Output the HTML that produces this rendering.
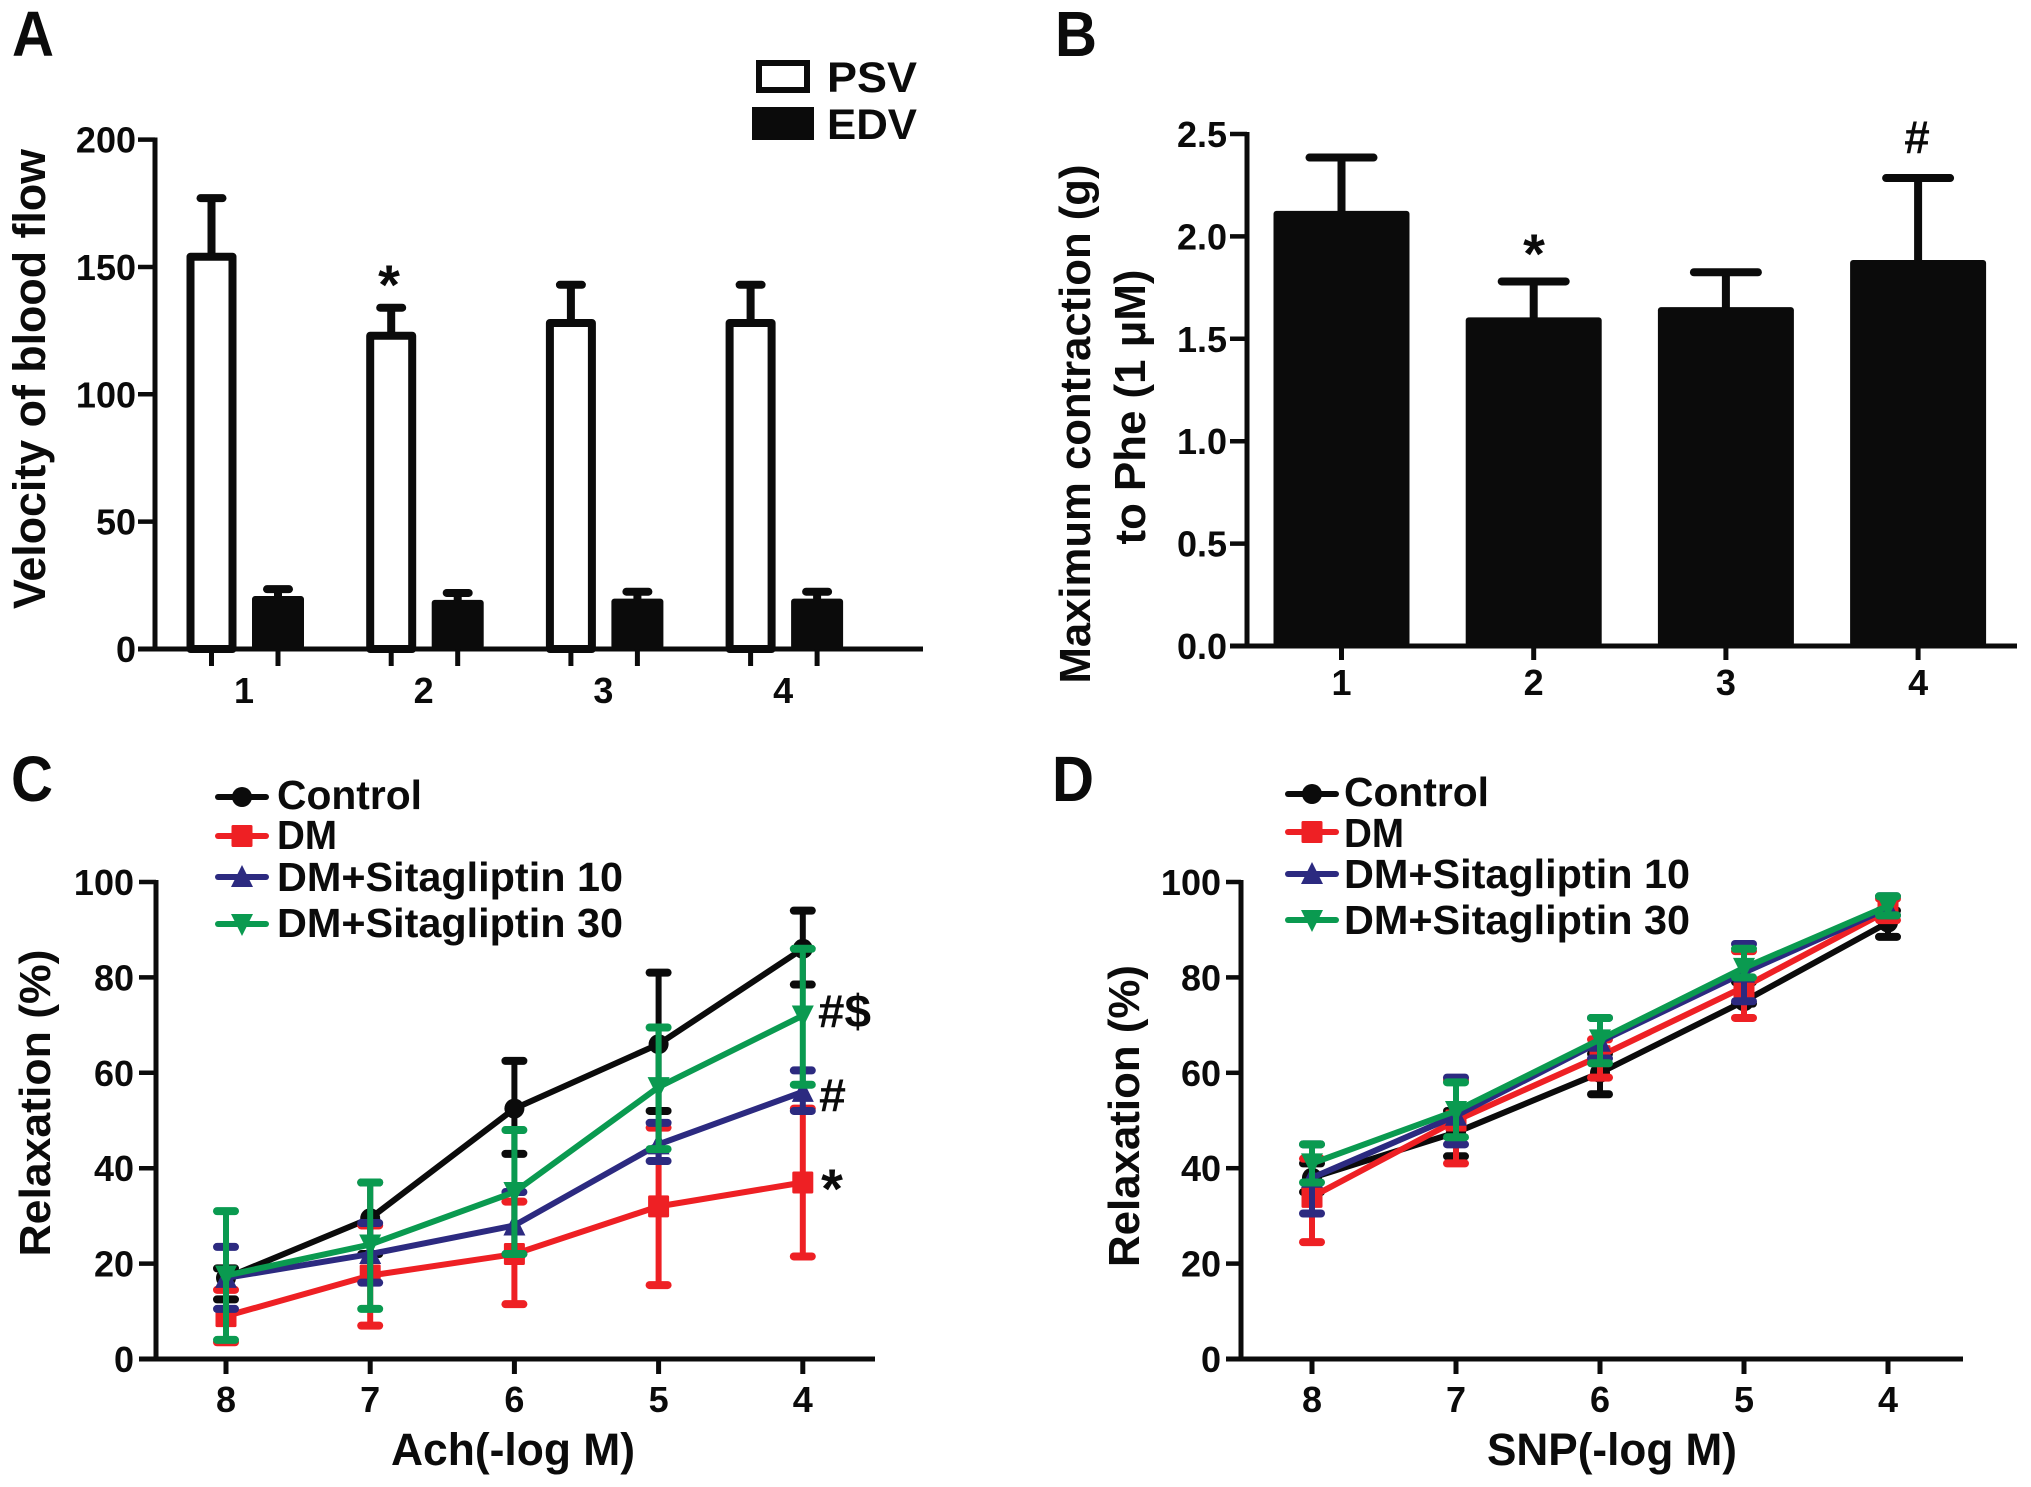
<!DOCTYPE html>
<html lang="en">
<head>
<meta charset="utf-8">
<title>Sitagliptin vascular function figure</title>
<style>
html,body{margin:0;padding:0;background:#fff;}
svg{display:block;}
text{font-family:"Liberation Sans",Arial,sans-serif;font-weight:bold;fill:#0b0b0b;}
</style>
</head>
<body>
<svg id="fig" xmlns="http://www.w3.org/2000/svg" width="2031" height="1487" viewBox="0 0 2031 1487">
  <rect width="2031" height="1487" fill="#fff"/>
  <g id="a"></g>
  <g id="b"></g>
  <g id="c"></g>
  <g id="d"></g>

  <text x="12" y="56" font-size="64" textLength="42" lengthAdjust="spacingAndGlyphs">A</text>
  <text x="1055" y="56" font-size="64" textLength="42" lengthAdjust="spacingAndGlyphs">B</text>
  <text x="11" y="801" font-size="64" textLength="42" lengthAdjust="spacingAndGlyphs">C</text>
  <text x="1052" y="801" font-size="64" textLength="42" lengthAdjust="spacingAndGlyphs">D</text>

  <text transform="translate(45,379) rotate(-90)" text-anchor="middle" font-size="45" textLength="460" lengthAdjust="spacingAndGlyphs">Velocity of blood flow</text>
  <text transform="translate(1090,424) rotate(-90)" text-anchor="middle" font-size="44" textLength="519" lengthAdjust="spacingAndGlyphs">Maximum contraction (g)</text>
  <text transform="translate(1145,407) rotate(-90)" text-anchor="middle" font-size="44" textLength="275" lengthAdjust="spacingAndGlyphs">to Phe (1 μM)</text>
  <text transform="translate(50,1103) rotate(-90)" text-anchor="middle" font-size="44" textLength="307" lengthAdjust="spacingAndGlyphs">Relaxation (%)</text>
  <text transform="translate(1139,1116) rotate(-90)" text-anchor="middle" font-size="44" textLength="302" lengthAdjust="spacingAndGlyphs">Relaxation (%)</text>
  <text x="391" y="1465" font-size="45" textLength="244" lengthAdjust="spacingAndGlyphs">Ach(-log M)</text>
  <text x="1487" y="1465" font-size="45" textLength="250" lengthAdjust="spacingAndGlyphs">SNP(-log M)</text>

  <g>
    <rect x="759" y="63" width="48" height="27" fill="#fff" stroke="#0b0b0b" stroke-width="6"/>
    <text x="827" y="92" font-size="43" textLength="90" lengthAdjust="spacingAndGlyphs">PSV</text>
    <rect x="752" y="107" width="62" height="33" fill="#0b0b0b"/>
    <text x="827" y="139" font-size="43" textLength="90" lengthAdjust="spacingAndGlyphs">EDV</text>
  </g>

  <text x="389" y="304" font-size="56" text-anchor="middle">*</text>
  <text x="1534" y="273" font-size="56" text-anchor="middle">*</text>
  <text x="1917" y="153" font-size="46" text-anchor="middle">#</text>
  <text x="818" y="1027" font-size="46" textLength="53" lengthAdjust="spacingAndGlyphs">#$</text>
  <text x="819" y="1111" font-size="46" textLength="27" lengthAdjust="spacingAndGlyphs">#</text>
  <text x="832" y="1208" font-size="56" text-anchor="middle">*</text>

  <g id="legend-c"></g>
  <g id="legend-d"></g>
</svg>

<script>
// Panel A
const aCategories = ['1', '2', '3', '4'];
const aYTicks = [0, 50, 100, 150, 200];
const aPsv = [154, 123, 128, 128];
const aPsvErr = [23, 11, 15, 15];
const aEdv = [20, 18.5, 19, 19];
const aEdvErr = [3.5, 3.5, 3.5, 3.5];

// Panel B
const bCategories = ['1', '2', '3', '4'];
const bYTickLabels = ['0.0', '0.5', '1.0', '1.5', '2.0', '2.5'];
const bValues = [2.11, 1.59, 1.64, 1.87];
const bErr = [0.275, 0.19, 0.185, 0.415];

// Panels C and D share dose labels and y ticks
const doseLabels = ['8', '7', '6', '5', '4'];
const relaxTicks = [0, 20, 40, 60, 80, 100];
const seriesNames = ['Control', 'DM', 'DM+Sitagliptin 10', 'DM+Sitagliptin 30'];

// Panel C
const cControl = [17, 29.5, 52.5, 66, 86];
const cControlHi = [19, 37, 62.5, 81, 94];
const cControlLo = [12.5, 22, 43, 52, 78.5];
const cDm = [9, 17.5, 22, 32, 37];
const cDmHi = [14.5, 28, 33, 48.5, 52.5];
const cDmLo = [3.5, 7, 11.5, 15.5, 21.5];
const cS10 = [17, 22, 28, 45, 56];
const cS10Hi = [23.5, 28.5, 35, 49.5, 60.5];
const cS10Lo = [10.5, 16, 22, 41.5, 52];
const cS30 = [17.5, 24, 35, 57, 72];
const cS30Hi = [31, 37, 48, 69.5, 86];
const cS30Lo = [4, 10.5, 22, 44, 57.5];

// Panel D
const dControl = [38, 47.5, 60, 75, 91.5];
const dControlHi = [41, 52, 64, 79, 94];
const dControlLo = [35, 42.5, 55.5, 74.5, 88.5];
const dDm = [34, 50, 63.5, 78, 94];
const dDmHi = [42, 58.5, 67, 85.5, 96.5];
const dDmLo = [24.5, 41, 59, 71.5, 92];
const dS10 = [38, 51, 66.5, 81, 94.5];
const dS10Hi = [45, 59, 71.5, 87, 97];
const dS10Lo = [30.5, 45, 63, 75, 93];
const dS30 = [41, 52, 67, 82, 95];
const dS30Hi = [45, 58, 71.5, 86, 97];
const dS30Lo = [37, 46.5, 62, 80, 93];

const NS = 'http://www.w3.org/2000/svg';
const INK = '#0b0b0b';
const RED = '#ee2024';
const NAVY = '#2c2a80';
const GREEN = '#0a9a50';

function mk(parent, tag, attrs) {
  const el = document.createElementNS(NS, tag);
  for (const k in attrs) el.setAttribute(k, attrs[k]);
  parent.appendChild(el);
  return el;
}
function seg(parent, x1, y1, x2, y2, color, w, cap) {
  return mk(parent, 'line', {x1: x1, y1: y1, x2: x2, y2: y2, stroke: color, 'stroke-width': w, 'stroke-linecap': cap || 'butt'});
}
function drawAxes(group, x0, x1, y0, yTop, yScale, yTicks, yLabels, xCenters, xLabelPos, xLabels, xLabelY, tickLeft, labelGap, tickLen) {
  const yAxis = seg(group, x0, y0 + 2, x0, yTop - 2, INK, 5);
  
  
  const xAxis = seg(group, tickLeft, y0, x1, y0, INK, 5);
  
  
  yTicks.forEach(function (v, i) {
    const t = seg(group, tickLeft, yScale(v), x0, yScale(v), INK, 4.5);
    
    
    const lab = mk(group, 'text', {x: tickLeft - labelGap, y: yScale(v) + 13, 'font-size': 36, 'text-anchor': 'end'});
    lab.textContent = yLabels[i];
    
    
  });
  xCenters.forEach(function (x) {
    const t = seg(group, x, y0, x, y0 + tickLen, INK, 5);
    
    
  });
  xLabels.forEach(function (s, i) {
    const lab = mk(group, 'text', {x: xLabelPos[i], y: xLabelY, 'font-size': 36, 'text-anchor': 'middle'});
    lab.textContent = s;
    
    
  });
}

/* ---------- Panel A ---------- */
(function () {
  const g = document.getElementById('a');
  const base = 649;
  const y = function (v) { return base - v * 2.547; };
  const xPsv = function (i) { return 211.5 + i * 179.7; };
  const xEdv = function (i) { return 278 + i * 179.7; };
  const centers = [];
  const labelPos = [];
  aCategories.forEach(function (c, i) {
    centers.push(xPsv(i), xEdv(i));
    labelPos.push(244 + i * 179.7);
  });
  aCategories.forEach(function (c, i) {
    const stem = seg(g, xPsv(i), y(aPsv[i]), xPsv(i), y(aPsv[i] + aPsvErr[i]), INK, 8);
    
    
    const cap = seg(g, xPsv(i) - 11, y(aPsv[i] + aPsvErr[i]), xPsv(i) + 11, y(aPsv[i] + aPsvErr[i]), INK, 8, 'round');
    
    
    const bar = mk(g, 'rect', {x: xPsv(i) - 21, y: y(aPsv[i]), width: 42, height: base - y(aPsv[i]), fill: '#fff', stroke: INK, 'stroke-width': 8, 'stroke-linejoin': 'round'});
    
    
    const stem2 = seg(g, xEdv(i), y(aEdv[i]), xEdv(i), y(aEdv[i] + aEdvErr[i]), INK, 8);
    
    
    const cap2 = seg(g, xEdv(i) - 11, y(aEdv[i] + aEdvErr[i]), xEdv(i) + 11, y(aEdv[i] + aEdvErr[i]), INK, 8, 'round');
    
    
    const bar2 = mk(g, 'rect', {x: xEdv(i) - 26, y: y(aEdv[i]) - 2, width: 52, height: base - y(aEdv[i]) + 2, fill: INK, rx: 3});
    
    
  });
  drawAxes(g, 155, 923, base, 139.5, y, aYTicks, aYTicks.map(String), centers, labelPos, aCategories, 703, 138, 2, 17);
})();

/* ---------- Panel B ---------- */
(function () {
  const g = document.getElementById('b');
  const base = 646;
  const y = function (v) { return base - v * 204.8; };
  const x = function (i) { return 1341.5 + i * 192.2; };
  const centers = bCategories.map(function (c, i) { return x(i); });
  const yVals = bYTickLabels.map(Number);
  bCategories.forEach(function (c, i) {
    const top = bValues[i] + bErr[i];
    const stem = seg(g, x(i), y(bValues[i]), x(i), y(top), INK, 8);
    
    
    const cap = seg(g, x(i) - 32, y(top), x(i) + 32, y(top), INK, 8, 'round');
    
    
    const bar = mk(g, 'rect', {x: x(i) - 68, y: y(bValues[i]) - 3, width: 136, height: base - y(bValues[i]) + 3, fill: INK, rx: 3});
    
    
  });
  drawAxes(g, 1247, 2017, base, 134, y, yVals, bYTickLabels, centers, centers, bCategories, 695, 1230, 3, 14);
})();

/* ---------- Panels C and D ---------- */
function drawMarker(g, kind, cx, cy, color) {
  if (kind === 0) {
    const m = mk(g, 'circle', {cx: cx, cy: cy, r: 10, fill: color});
    
    
  } else if (kind === 1) {
    const m = mk(g, 'rect', {x: cx - 10.5, y: cy - 11, width: 21, height: 22, fill: color, rx: 1.5});
    
    
  } else if (kind === 2) {
    const pts = (cx - 11) + ',' + (cy + 10) + ' ' + (cx + 11) + ',' + (cy + 10) + ' ' + cx + ',' + (cy - 12);
    const m = mk(g, 'polygon', {points: pts, fill: color});
    
    
  } else {
    const pts = (cx - 11) + ',' + (cy - 10) + ' ' + (cx + 11) + ',' + (cy - 10) + ' ' + cx + ',' + (cy + 12);
    const m = mk(g, 'polygon', {points: pts, fill: color});
    
    
  }
}
function drawLines(g, x, y, allSeries, colors) {
  allSeries.forEach(function (s, k) {
    const means = s[0], hi = s[1], lo = s[2], color = colors[k];
    means.forEach(function (v, i) {
      const stem = seg(g, x(i), y(hi[i]), x(i), y(lo[i]), color, 6);
      
      
      const capHi = seg(g, x(i) - 9, y(hi[i]), x(i) + 9, y(hi[i]), color, 8, 'round');
      
      
      const capLo = seg(g, x(i) - 9, y(lo[i]), x(i) + 9, y(lo[i]), color, 8, 'round');
      
      
    });
    const pts = means.map(function (v, i) { return x(i) + ',' + y(v); }).join(' ');
    const line = mk(g, 'polyline', {points: pts, fill: 'none', stroke: color, 'stroke-width': 6, 'stroke-linejoin': 'round'});
    
    
    means.forEach(function (v, i) {
      drawMarker(g, k, x(i), y(v), color);
    });
  });
}
function drawLegend(g, lineX0, lineX1, textX, ys, baselines, widths, colors) {
  seriesNames.forEach(function (name, k) {
    const l = seg(g, lineX0 + 3, ys[k], lineX1 - 3, ys[k], colors[k], 6, 'round');
    
    
    drawMarker(g, k, (lineX0 + lineX1) / 2, ys[k], colors[k]);
    const t = mk(g, 'text', {x: textX, y: baselines[k], 'font-size': 41, textLength: widths[k], lengthAdjust: 'spacingAndGlyphs'});
    t.textContent = name;
    
    
  });
}
const lineColors = [INK, RED, NAVY, GREEN];
(function () {
  const g = document.getElementById('c');
  const y = function (v) { return 1359 - v * 4.77; };
  const x = function (i) { return 226 + i * 144.2; };
  const centers = doseLabels.map(function (c, i) { return x(i); });
  drawAxes(g, 156, 875, 1359, 882, y, relaxTicks, relaxTicks.map(String), centers, centers, doseLabels, 1412, 139, 5, 15);
  drawLines(g, x, y, [[cControl, cControlHi, cControlLo], [cDm, cDmHi, cDmLo], [cS10, cS10Hi, cS10Lo], [cS30, cS30Hi, cS30Lo]], lineColors);
  drawLegend(document.getElementById('legend-c'), 215, 269, 277, [797, 836, 877, 924], [809, 849, 891, 937], [145, 60, 346, 346], lineColors);
})();
(function () {
  const g = document.getElementById('d');
  const y = function (v) { return 1359 - v * 4.77; };
  const x = function (i) { return 1312 + i * 144; };
  const centers = doseLabels.map(function (c, i) { return x(i); });
  drawAxes(g, 1241, 1963, 1359, 882, y, relaxTicks, relaxTicks.map(String), centers, centers, doseLabels, 1412, 1226, 5, 15);
  drawLines(g, x, y, [[dControl, dControlHi, dControlLo], [dDm, dDmHi, dDmLo], [dS10, dS10Hi, dS10Lo], [dS30, dS30Hi, dS30Lo]], lineColors);
  drawLegend(document.getElementById('legend-d'), 1285, 1339, 1344, [794, 832, 874, 920], [806, 847, 888, 934], [145, 60, 346, 346], lineColors);
})();
</script>
</body>
</html>
